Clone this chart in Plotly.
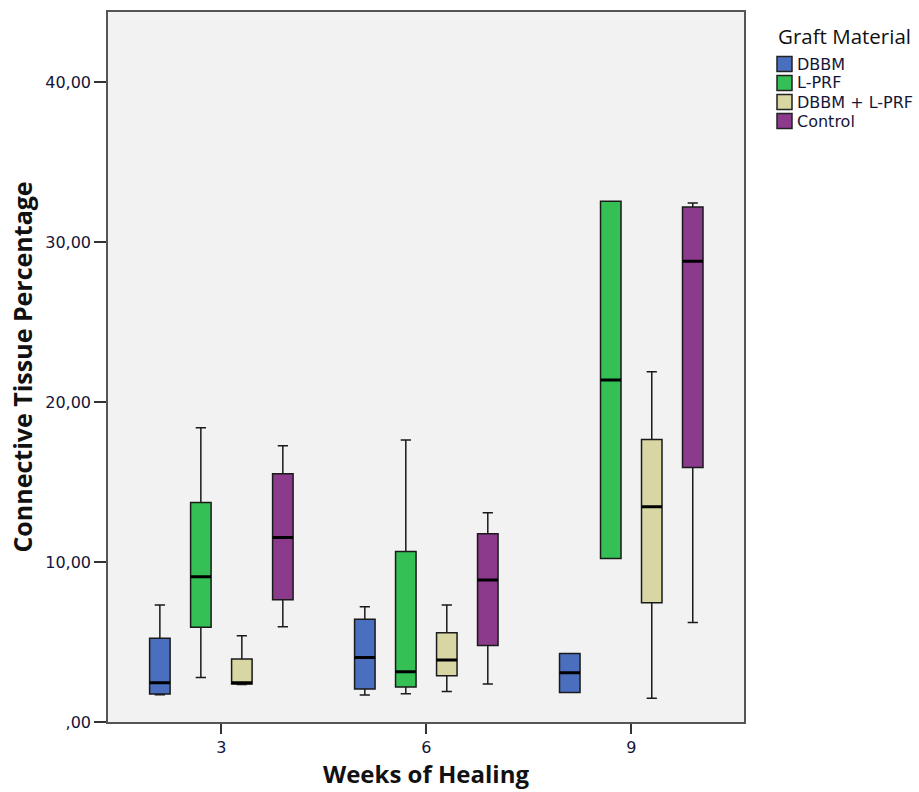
import plotly.graph_objects as go

weeks = ["3", "6", "9"]
groups = ["DBBM", "L-PRF", "DBBM + L-PRF", "Control"]
colors = ["#4b6fbf", "#35c055", "#d8d6a2", "#8c3a8c"]

# box statistics per group, for weeks 3, 6, 9
lower = {
    "DBBM": [1.70, 1.69, 1.85],
    "L-PRF": [2.79, 1.77, 10.23],
    "DBBM + L-PRF": [2.35, 1.90, 1.48],
    "Control": [5.96, 2.38, 6.23],
}
q1 = {
    "DBBM": [1.75, 2.06, 1.85],
    "L-PRF": [5.92, 2.19, 10.23],
    "DBBM + L-PRF": [2.37, 2.90, 7.46],
    "Control": [7.64, 4.79, 15.92],
}
median = {
    "DBBM": [2.46, 4.04, 3.08],
    "L-PRF": [9.08, 3.15, 21.38],
    "DBBM + L-PRF": [2.46, 3.88, 13.46],
    "Control": [11.54, 8.88, 28.81],
}
q3 = {
    "DBBM": [5.23, 6.42, 4.29],
    "L-PRF": [13.73, 10.67, 32.56],
    "DBBM + L-PRF": [3.94, 5.58, 17.67],
    "Control": [15.52, 11.77, 32.21],
}
upper = {
    "DBBM": [7.31, 7.21, 4.29],
    "L-PRF": [18.40, 17.63, 32.56],
    "DBBM + L-PRF": [5.39, 7.31, 21.90],
    "Control": [17.27, 13.08, 32.46],
}

ytick_vals = [0, 10, 20, 30, 40]
ytick_text = [",00", "10,00", "20,00", "30,00", "40,00"]

legend_title = "Graft Material"

# figure geometry (page body margin is removed by post_script below)
W, H = 919, 792
ML, MR, MT, MB = 108, 175, 12, 70
PW, PH = W - ML - MR, H - MT - MB


def px_x(x_page):
    return (x_page - ML) / PW


def px_y(y_page):
    return (H - MB - y_page) / PH


fig = go.Figure()
for g, c in zip(groups, colors):
    fig.add_trace(go.Box(
        x=weeks, q1=q1[g], median=median[g], q3=q3[g],
        lowerfence=lower[g], upperfence=upper[g],
        name=g, offsetgroup=g, legendgroup=g, showlegend=False,
        fillcolor=c, line=dict(color="#1a1a1a", width=1.5),
        whiskerwidth=0.5, boxpoints=False, hoverinfo="skip",
    ))
# thicker median lines overlaid at the same positions
for g in groups:
    fig.add_trace(go.Box(
        x=weeks, q1=median[g], median=median[g], q3=median[g],
        lowerfence=median[g], upperfence=median[g],
        name=g, offsetgroup=g, legendgroup=g, showlegend=False,
        fillcolor="rgba(0,0,0,0)", line=dict(color="#000000", width=3),
        whiskerwidth=0, boxpoints=False, hoverinfo="skip",
    ))

# legend drawn as layout shapes + text
shapes = []
annotations = [dict(
    x=px_x(776), y=px_y(36), xref="paper", yref="paper",
    xanchor="left", yanchor="middle", showarrow=False,
    text=legend_title, font=dict(size=20.5, family="Open Sans", color="#111"),
)]
row0, step = 64, 19
for i, (g, c) in enumerate(zip(groups, colors)):
    yc = row0 + i * step
    shapes.append(dict(
        type="rect", xref="paper", yref="paper",
        x0=px_x(777), x1=px_x(792), y0=px_y(yc + 7.5), y1=px_y(yc - 7.5),
        fillcolor=c, line=dict(color="#222", width=1.5),
    ))
    annotations.append(dict(
        x=px_x(795), y=px_y(yc), xref="paper", yref="paper",
        xanchor="left", yanchor="middle", showarrow=False,
        text=g, font=dict(size=16, family="DejaVu Sans", color="#15153a"),
    ))

fig.update_layout(
    width=W, height=H,
    margin=dict(l=ML, r=MR, t=MT, b=MB, autoexpand=False),
    paper_bgcolor="white",
    plot_bgcolor="#f2f2f2",
    boxmode="group", boxgap=0.2, boxgroupgap=0.5,
    font=dict(family="DejaVu Sans", color="#15153a"),
    showlegend=False,
    shapes=shapes, annotations=annotations,
    xaxis=dict(
        type="category", range=[-0.553, 2.55], automargin=False,
        showline=True, mirror=True, linecolor="#555", linewidth=1.5,
        ticks="outside", ticklen=10, tickcolor="#333", tickwidth=1.5,
        tickfont=dict(size=16, color="#15153a"),
        showgrid=False, zeroline=False,
        title=dict(text="Weeks of Healing", standoff=10,
                   font=dict(size=24, family="Open Sans", weight="bold", color="#111")),
    ),
    yaxis=dict(
        range=[0, 44.4], automargin=False,
        tickvals=ytick_vals, ticktext=ytick_text,
        showline=True, mirror=True, linecolor="#555", linewidth=1.5,
        ticks="outside", ticklen=12, tickcolor="#333", tickwidth=1.5,
        tickfont=dict(size=16, color="#15153a"),
        showgrid=False, zeroline=False,
        title=dict(text="Connective Tissue Percentage", standoff=5,
                   font=dict(size=25, family="Open Sans", weight="bold", color="#111")),
    ),
)

fig.write_html("out.html",
               config={"displayModeBar": False},
               post_script="document.body.style.margin='0';document.body.style.overflow='hidden';")
